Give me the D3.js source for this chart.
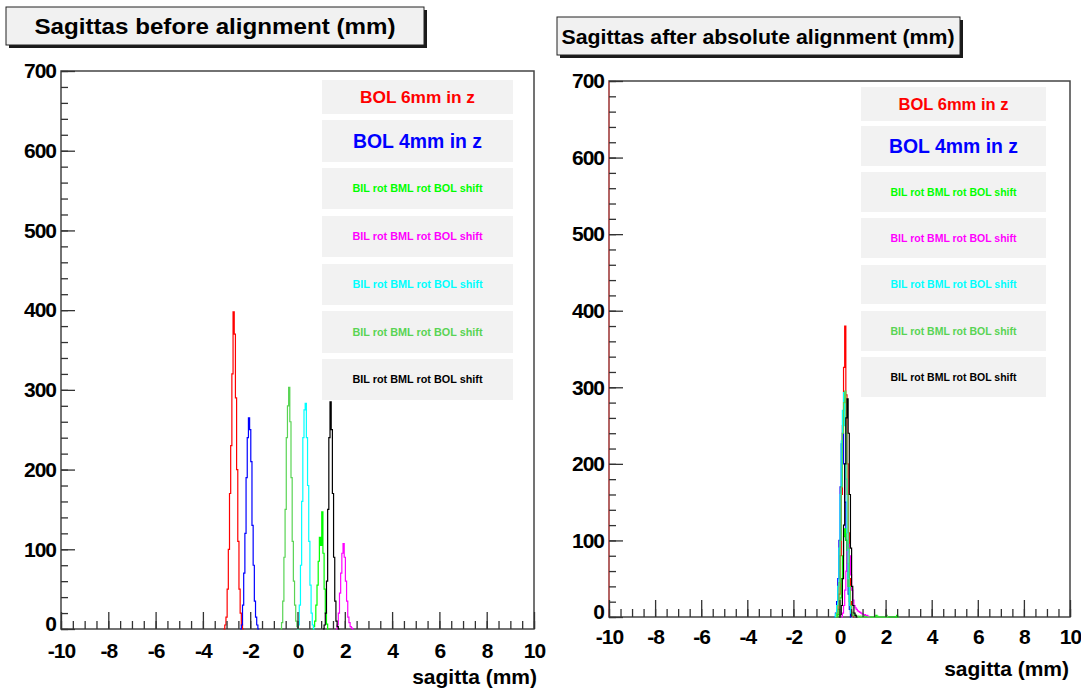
<!DOCTYPE html>
<html>
<head>
<meta charset="utf-8">
<script src="https://cdn.jsdelivr.net/npm/d3@7"></script>
<style>
  html, body { margin: 0; padding: 0; background: #ffffff; }
  svg { display: block; }
  text { font-family: "Liberation Sans", Arial, Helvetica, sans-serif; font-weight: bold; }
</style>
</head>
<body>
<svg id="chart" width="1081" height="690"></svg>
<script>
// ---------------- DATA ----------------
const binWidth = 0.05;
const seriesNames = ["BOL 6mm in z", "BOL 4mm in z", "BIL rot BML rot BOL shift", "BIL rot BML rot BOL shift", "BIL rot BML rot BOL shift", "BIL rot BML rot BOL shift", "BIL rot BML rot BOL shift"];
const seriesColors = ["#ff0000", "#0000ff", "#00ff00", "#ff00ff", "#00ffff", "#59d454", "#000000"];
const xTickValues = [-10, -8, -6, -4, -2, 0, 2, 4, 6, 8, 10];
const yTickValues = [0, 100, 200, 300, 400, 500, 600, 700];
const titles = ["Sagittas before alignment (mm)", "Sagittas after absolute alignment (mm)"];
const xAxisTitle = "sagitta (mm)";

// first bin centre for each series (same order as seriesNames)
const beforeStart = [-3.05, -2.35, 0.70, 1.70, 0.05, -0.65, 1.15];
const beforeRed     = [5, 15, 50, 100, 170, 230, 320, 398, 370, 290, 200, 110, 50, 20, 5];
const beforeBlue    = [5, 30, 70, 120, 190, 240, 265, 250, 210, 130, 80, 35, 15, 5];
const beforeGreen   = [3, 10, 30, 55, 85, 115, 105, 147, 95, 50, 20, 6];
const beforeMagenta = [5, 20, 45, 70, 95, 107, 90, 60, 35, 15, 8, 3, 1];
const beforeCyan    = [5, 30, 80, 160, 240, 275, 283, 240, 180, 110, 55, 20, 5];
const beforeMidGreen= [8, 35, 90, 150, 240, 280, 303, 260, 190, 110, 60, 30, 10, 3];
const beforeBlack   = [5, 20, 60, 150, 240, 285, 250, 170, 90, 35, 10, 3];

const afterStart = [-0.10, -0.15, -0.05, 0.15, -0.15, -0.10, 0.05];
const afterRed     = [3, 10, 30, 80, 160, 250, 326, 380, 290, 200, 110, 50, 20, 6];
const afterBlue    = [5, 20, 50, 100, 170, 226, 240, 200, 150, 100, 60, 30, 10];
const afterGreen   = [3, 10, 25, 50, 80, 105, 115, 100, 70, 40, 20, 8, 5, 3, 2, 2, 1, 1, 0, 1, 0, 0, 1, 2, 1, 0, 0, 0, 0, 0, 0, 0, 0, 2, 1, 0, 0, 0, 0, 0, 0, 0, 0, 0, 0, 0, 0, 0, 0, 0, 0, 2];
const afterMagenta = [5, 15, 35, 60, 85, 95, 80, 55, 35, 22, 15, 12, 10, 8, 7, 6, 5, 4, 3, 3, 2, 2, 1];
const afterCyan    = [4, 15, 40, 90, 160, 230, 270, 293, 250, 180, 110, 50, 15, 5];
const afterMidGreen= [5, 15, 45, 100, 170, 240, 280, 295, 240, 160, 90, 40, 15, 5, 3, 2, 2, 1, 1, 0, 0, 1, 0, 0, 0, 0, 0, 0, 0, 0, 0, 0, 0, 0, 0, 0, 0, 0, 0, 0, 0, 0, 0, 2];
const afterBlack   = [3, 15, 50, 120, 200, 260, 285, 240, 160, 90, 40, 15, 5, 2];

// ---------------- LAYOUT ----------------
const panels = [
  {
    title: titles[0], titleBox: {x: 6, y: 7, w: 418, h: 38}, titleText: {x: 215, y: 34, len: 361, fs: 22},
    frame: {x0: 61, x1: 534, y0: 629, y1: 71},
    yLabelPad: 5, xLabelBaseline: 29, xTitle: {x: 537, y: 684},
    legend: {x: 322, w: 191, rows: [[80,114],[120,162],[168,209],[216,257],[264,305],[311,353],[359,400]]},
    legendText: [{fs: 17, len: 115}, {fs: 20, len: 129}, {fs: 11, len: 130}],
    start: beforeStart,
    hists: [beforeRed, beforeBlue, beforeGreen, beforeMagenta, beforeCyan, beforeMidGreen, beforeBlack],
    redAxis: false
  },
  {
    title: titles[1], titleBox: {x: 557, y: 17, w: 403, h: 38}, titleText: {x: 758, y: 44, len: 393, fs: 21},
    frame: {x0: 609, x1: 1070, y0: 617, y1: 81},
    yLabelPad: 5, xLabelBaseline: 27, xTitle: {x: 1069, y: 676},
    legend: {x: 861, w: 185, rows: [[87,121],[126,166],[172,212],[218,258],[265,304],[311,351],[357,397]]},
    legendText: [{fs: 17, len: 110}, {fs: 20, len: 129}, {fs: 11, len: 126}],
    start: afterStart,
    hists: [afterRed, afterBlue, afterGreen, afterMagenta, afterCyan, afterMidGreen, afterBlack],
    redAxis: true
  }
];

const svg = d3.select("#chart");
const fmt = d => String(d);

panels.forEach(p => {
  const x = d3.scaleLinear().domain([-10, 10]).range([p.frame.x0, p.frame.x1]);
  const y = d3.scaleLinear().domain([0, 700]).range([p.frame.y0, p.frame.y1]);
  const g = svg.append("g");

  // title box with shadow
  g.append("rect")
    .attr("x", p.titleBox.x + 3).attr("y", p.titleBox.y + 3)
    .attr("width", p.titleBox.w).attr("height", p.titleBox.h)
    .attr("fill", "#1a1a1a");
  g.append("rect")
    .attr("x", p.titleBox.x).attr("y", p.titleBox.y)
    .attr("width", p.titleBox.w).attr("height", p.titleBox.h)
    .attr("fill", "#f1f1f1").attr("stroke", "#222").attr("stroke-width", 1);
  g.append("text")
    .attr("x", p.titleText.x).attr("y", p.titleText.y)
    .attr("text-anchor", "middle")
    .attr("font-size", p.titleText.fs)
    .attr("textLength", p.titleText.len).attr("lengthAdjust", "spacingAndGlyphs")
    .attr("fill", "#000")
    .text(p.title);

  // frame
  g.append("rect")
    .attr("x", p.frame.x0).attr("y", p.frame.y1)
    .attr("width", p.frame.x1 - p.frame.x0).attr("height", p.frame.y0 - p.frame.y1)
    .attr("fill", "none").attr("stroke", "#444").attr("stroke-width", 1.5);

  // legend boxes
  p.legend.rows.forEach((r, i) => {
    g.append("rect")
      .attr("x", p.legend.x).attr("y", r[0])
      .attr("width", p.legend.w).attr("height", r[1] - r[0])
      .attr("fill", "#f2f2f2");
    const lt = p.legendText[Math.min(i, 2)];
    g.append("text")
      .attr("x", p.legend.x + p.legend.w / 2)
      .attr("y", (r[0] + r[1]) / 2 + lt.fs * 0.36)
      .attr("text-anchor", "middle")
      .attr("font-size", lt.fs)
      .attr("textLength", lt.len).attr("lengthAdjust", "spacingAndGlyphs")
      .attr("fill", seriesColors[i])
      .text(seriesNames[i]);
  });

  // histograms
  const line = d3.line()
    .x(d => x(d[0])).y(d => y(d[1]))
    .curve(d3.curveStepAfter);
  p.hists.forEach((counts, i) => {
    const lo0 = p.start[i] - binWidth / 2;
    const pts = [[lo0 - binWidth, 0], [lo0, 0]];
    counts.forEach((c, k) => pts.push([lo0 + k * binWidth, c]));
    pts.push([lo0 + counts.length * binWidth, 0]);
    pts.push([lo0 + (counts.length + 1) * binWidth, 0]);
    g.append("path")
      .attr("d", line(pts))
      .attr("fill", "none")
      .attr("stroke", seriesColors[i])
      .attr("stroke-width", 1.2);
  });

  if (p.redAxis) {
    g.append("line")
      .attr("x1", x(-10)).attr("x2", x(-10))
      .attr("y1", y(0)).attr("y2", y(700))
      .attr("stroke", "#e05a5a").attr("stroke-width", 1.2);
  }

  const styleLabels = a => a.selectAll("text").attr("font-size", 21).attr("fill", "#000")
      .attr("font-family", "\"Liberation Sans\", Arial, sans-serif").attr("font-weight", "bold")
      .attr("letter-spacing", "-1");

  // x axis: minor ticks
  const xMinor = d3.range(-10, 10.001, 0.5);
  g.append("g")
    .attr("transform", `translate(0,${p.frame.y0})`)
    .call(d3.axisBottom(x).tickValues(xMinor).tickSize(-8).tickFormat(""))
    .call(a => a.select(".domain").remove())
    .call(a => a.selectAll("line").attr("stroke", "#333").attr("stroke-width", 1.3));
  // x axis: major ticks + labels
  g.append("g")
    .attr("transform", `translate(0,${p.frame.y0})`)
    .call(d3.axisBottom(x).tickValues(xTickValues).tickSize(-17).tickPadding(p.xLabelBaseline - 15).tickFormat(fmt))
    .call(a => a.select(".domain").remove())
    .call(a => a.selectAll("line").attr("stroke", "#333").attr("stroke-width", 1.3))
    .call(styleLabels);

  // y axis minor ticks
  const yMinor = d3.range(0, 700.001, 20);
  g.append("g")
    .attr("transform", `translate(${p.frame.x0},0)`)
    .call(d3.axisLeft(y).tickValues(yMinor).tickSize(-7).tickFormat(""))
    .call(a => a.select(".domain").remove())
    .call(a => a.selectAll("line").attr("stroke", "#333").attr("stroke-width", 1.3));
  g.append("g")
    .attr("transform", `translate(${p.frame.x0},0)`)
    .call(d3.axisLeft(y).tickValues(yTickValues).tickSize(-14).tickPadding(p.yLabelPad).tickFormat(fmt))
    .call(a => a.select(".domain").remove())
    .call(a => a.selectAll("line").attr("stroke", "#333").attr("stroke-width", 1.3))
    .call(styleLabels)
    .call(a => a.selectAll(".tick").filter(d => d === 0).select("text").attr("dy", "0.05em"));

  // x axis title
  g.append("text")
    .attr("x", p.xTitle.x).attr("y", p.xTitle.y)
    .attr("text-anchor", "end")
    .attr("font-size", 21)
    .attr("fill", "#000")
    .text(xAxisTitle);
});
</script>
</body>
</html>
